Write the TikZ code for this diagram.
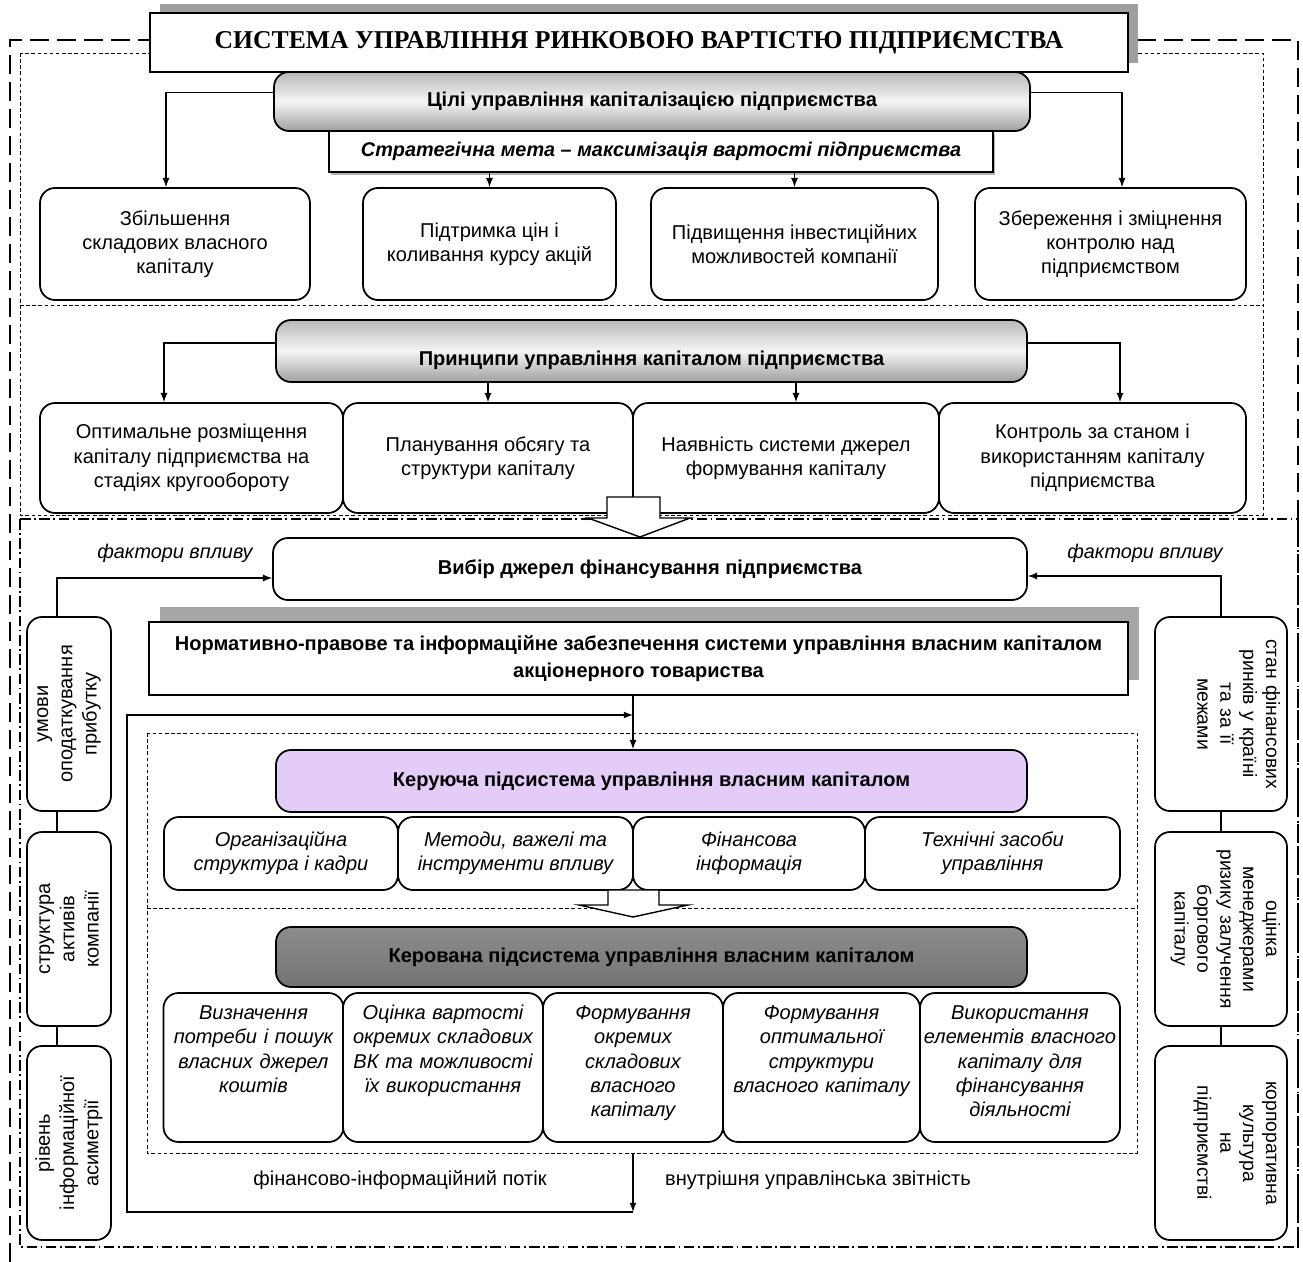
\documentclass[tikz,border=0pt]{standalone}
\usepackage{fontspec}
\setmainfont{Liberation Sans}
\newfontfamily\titlefont{Liberation Serif}
\usetikzlibrary{shadows}
\definecolor{lav}{HTML}{E3CCF7}

\begin{document}
\begin{tikzpicture}[
	every node/.style={font=\fontsize{11.4}{13.8}\selectfont},
	box/.style={draw, line width=1pt, rounded corners=0.3cm, fill=white, align=center, inner sep=1pt},
	head/.style={box, font=\fontsize{11.4}{13.8}\selectfont\bfseries},
	grayhead/.style={head, top color=gray!55, bottom color=gray!75, middle color=gray!8},
	sq/.style={draw, line width=1pt, fill=white, align=center, inner sep=1pt},
	ibox/.style={box, font=\fontsize{11.4}{13.8}\selectfont\itshape},
	mbox/.style={ibox, inner sep=0pt, minimum height=2.98cm, text width=3.6cm, text height=0.28cm, text depth=2.2cm},
	lbox/.style={box, rotate=90, minimum width=3.88cm, minimum height=1.68cm},
	rbox/.style={box, rotate=-90, minimum width=3.88cm, minimum height=2.64cm, text width=3.6cm, text height=0.3cm, text depth=2.1cm, font=\fontsize{11}{13}\selectfont},
	arr/.style={-latex, line width=0.8pt},
	ln/.style={line width=0.8pt},
	blk/.style={draw, line width=0.8pt, fill=white},
	dots/.style={line width=0.5pt, dash pattern=on 2pt off 1.5pt},
	]
	\useasboundingbox (0,0) rectangle (26.06,-25.24);
	\draw[line width=1.6pt, dash pattern=on 0.38cm off 0.16cm] (0.2,-25.24) -- (0.2,-0.8) -- (25.96,-0.8) -- (25.96,-25.1);
	\draw[dots] (0.4,-1.06) rectangle (25.26,-10.3);
	\draw[dots] (0.4,-6.1) -- (25.26,-6.1);
	\draw[line width=0.7pt, dash pattern=on 6pt off 2pt on 1pt off 2pt] (0.4,-10.38) rectangle (25.96,-24.94);
	\draw[dots] (2.94,-14.66) rectangle (22.74,-23.06);
	\draw[dots] (2.94,-18.16) -- (22.74,-18.16);

	\node[sq, drop shadow={shadow xshift=0.2cm, shadow yshift=0.18cm, fill=gray!75, opacity=1}, minimum width=19.56cm, minimum height=1.18cm, font=\titlefont\fontsize{14.6}{17}\selectfont\bfseries] (title) at (12.78,-0.85) {СИСТЕМА УПРАВЛІННЯ РИНКОВОЮ ВАРТІСТЮ ПІДПРИЄМСТВА};

	\node[sq, drop shadow={shadow xshift=0.04cm, shadow yshift=-0.06cm, fill=gray!60, opacity=1}, minimum width=13.28cm, minimum height=0.82cm, font=\fontsize{11.3}{13}\selectfont\bfseries\itshape] (sm) at (13.22,-3.03) {Стратегічна мета – максимізація вартості підприємства};
	\node[grayhead, minimum width=15.12cm, minimum height=1.18cm] (gl) at (13.04,-2.03) {Цілі управління капіталізацією підприємства};

	\node[box, minimum width=5.40cm, minimum height=2.24cm] (g1) at (3.50,-4.88) {Збільшення\\складових власного\\капіталу};
	\node[box, minimum width=5.06cm, minimum height=2.24cm] (g2) at (9.79,-4.88) {Підтримка цін і\\коливання курсу акцій};
	\node[box, minimum width=5.74cm, minimum height=2.24cm] (g3) at (15.89,-4.88) {Підвищення інвестиційних\\можливостей компанії};
	\node[box, minimum width=5.42cm, minimum height=2.24cm] (g4) at (22.21,-4.88) {Збереження і зміцнення\\контролю над\\підприємством};

	\draw[arr] ([yshift=0.18cm]gl.west) -| ([xshift=-0.18cm]g1.north);
	\draw[arr] (sm.south -| g2.north) -- (g2.north);
	\draw[arr] (sm.south -| g3.north) -- (g3.north);
	\draw[arr] ([yshift=0.18cm]gl.east) -| ([xshift=0.23cm]g4.north);

	\node[grayhead, minimum width=15.02cm, minimum height=1.24cm, text height=0.6cm, text depth=0pt] (pr) at (13.03,-7.02) {Принципи управління капіталом підприємства};

	\node[box, minimum width=6.06cm, minimum height=2.2cm] (p1) at (3.83,-9.16) {Оптимальне розміщення\\капіталу підприємства на\\стадіях кругообороту};
	\node[box, minimum width=5.80cm, minimum height=2.2cm] (p2) at (9.76,-9.16) {Планування обсягу та\\структури капіталу};
	\node[box, minimum width=6.12cm, minimum height=2.2cm] (p3) at (15.72,-9.16) {Наявність системи джерел\\формування капіталу};
	\node[box, minimum width=6.14cm, minimum height=2.2cm] (p4) at (21.85,-9.16) {Контроль за станом і\\використанням капіталу\\підприємства};

	\draw[arr] ([yshift=0.16cm]pr.west) -| ([xshift=-0.55cm]p1.north);
	\draw[arr] (pr.south -| p2.north) -- (p2.north);
	\draw[arr] ([xshift=0.2cm]pr.south -| p3.north) -- ([xshift=0.2cm]p3.north);
	\draw[arr] ([yshift=0.16cm]pr.east) -| ([xshift=0.55cm]p4.north);

	\draw[blk] (12.14,-9.94) -- (13.2,-9.94) -- (13.2,-10.36) -- (13.8,-10.36) -- (12.8,-10.74) -- (11.76,-10.36) -- (12.14,-10.36) -- cycle;

	\node[head, minimum width=15.08cm, minimum height=1.24cm] (vb) at (13.0,-11.38) {Вибір джерел фінансування підприємства};
	\node[font=\fontsize{11.3}{13}\selectfont\itshape] (fl) at (3.5,-11.06) {фактори впливу};
	\node[font=\fontsize{11.3}{13}\selectfont\itshape] (fr) at (22.9,-11.06) {фактори впливу};

	\node[lbox] (l1) at (1.38,-14.28) {умови\\оподаткування\\прибутку};
	\node[lbox] (l2) at (1.38,-18.58) {структура\\активів\\компанії};
	\node[lbox] (l3) at (1.38,-22.86) {рівень\\інформаційної\\асиметрії};
	\node[rbox] (r1) at (24.42,-14.28) {стан фінансових\\ринків у країні\\та за її\\межами};
	\node[rbox] (r2) at (24.42,-18.58) {оцінка\\менеджерами\\ризику залучення\\боргового\\капіталу};
	\node[rbox] (r3) at (24.42,-22.86) {корпоративна\\культура\\на\\підприємстві};

	\draw[ln] ([xshift=-0.24cm]l1.west) -- ([xshift=-0.24cm]l2.east);
	\draw[ln] ([xshift=-0.24cm]l2.west) -- ([xshift=-0.24cm]l3.east);
	\draw[ln] (r1.east) -- (r2.west);
	\draw[ln] (r2.east) -- (r3.west);
	\draw[arr] ([xshift=-0.24cm]l1.east) |- ([yshift=-0.18cm]vb.west);
	\draw[arr] (r1.west) |- ([yshift=-0.14cm]vb.east);

	\node[sq, drop shadow={shadow xshift=0.22cm, shadow yshift=0.3cm, fill=gray!70, opacity=1}, minimum width=19.58cm, minimum height=1.46cm, font=\fontsize{11.4}{15}\selectfont\bfseries] (nb) at (12.77,-13.17) {Нормативно-правове та інформаційне забезпечення системи управління власним капіталом\\акціонерного товариства};

	\node[head, fill=lav, minimum width=15.02cm, minimum height=1.24cm] (kr) at (13.03,-15.62) {Керуюча підсистема управління власним капіталом};

	\node[ibox, minimum width=4.68cm, minimum height=1.46cm] (k1) at (5.62,-17.07) {Організаційна\\структура і кадри};
	\node[ibox, minimum width=4.70cm, minimum height=1.46cm] (k2) at (10.31,-17.07) {Методи, важелі та\\інструменти впливу};
	\node[ibox, minimum width=4.64cm, minimum height=1.46cm] (k3) at (14.98,-17.07) {Фінансова\\інформація};
	\node[ibox, minimum width=5.10cm, minimum height=1.46cm] (k4) at (19.85,-17.07) {Технічні засоби\\управління};

	\draw[blk] (12.16,-17.8) -- (13.18,-17.8) -- (13.18,-18.1) -- (13.76,-18.1) -- (12.66,-18.34) -- (11.58,-18.1) -- (12.16,-18.1) -- cycle;

	\node[head, top color=black!45, bottom color=black!55, minimum width=15.02cm, minimum height=1.2cm] (kd) at (13.03,-19.14) {Керована підсистема управління власним капіталом};

	\node[mbox, minimum width=3.58cm] (m1) at (5.07,-21.35) {Визначення\\потреби і пошук\\власних джерел\\коштів};
	\node[mbox, minimum width=4.0cm, text width=3.9cm] (m2) at (8.86,-21.35) {Оцінка вартості\\окремих складових\\ВК та можливості\\їх використання};
	\node[mbox, minimum width=3.6cm] (m3) at (12.66,-21.35) {Формування\\окремих\\складових\\власного\\капіталу};
	\node[mbox, minimum width=3.94cm, text width=3.85cm] (m4) at (16.43,-21.35) {Формування\\оптимальної\\структури\\власного капіталу};
	\node[mbox, minimum width=4.0cm, text width=3.95cm] (m5) at (20.40,-21.35) {Використання\\елементів власного\\капіталу для\\фінансування\\діяльності};

	\coordinate (fbt) at (12.66,-14.30);
	\coordinate (fbb) at (12.66,-24.24);
	\coordinate (kbot) at (12.66,-23.06);
	\draw[arr] (nb.south -| fbt) -- (kr.north -| fbt);
	\draw[arr] (kbot) -- (fbb);
	\draw[arr] (fbb) -- ++(-10.12,0) |- (fbt);

	\node (fip) at (8.0,-23.6) {фінансово-інформаційний потік};
	\node (vuz) at (16.36,-23.6) {внутрішня управлінська звітність};
\end{tikzpicture}
\end{document}
